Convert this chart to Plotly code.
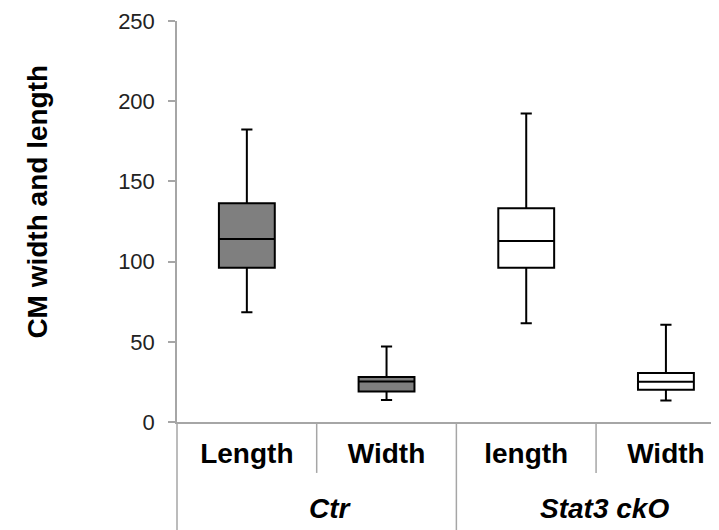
import plotly.graph_objects as go

# ---- data ----
groups = ["Ctr", "Ctr", "Stat3 ckO", "Stat3 ckO"]
categories = ["Length", "Width", "length", "Width"]
lower_whisker = [68.5, 13.7, 61.6, 13.4]
q1_values = [96.2, 19.0, 96.2, 20.1]
median_values = [114.1, 25.3, 112.9, 25.1]
q3_values = [136.3, 28.0, 133.2, 30.5]
upper_whisker = [182.4, 47.1, 192.3, 60.6]
fill_colors = ["#7f7f7f", "#7f7f7f", "#ffffff", "#ffffff"]
group_names = ["Ctr", "Stat3 ckO"]
group_label_pos = [0.60, 2.56]
y_ticks = [0, 50, 100, 150, 200, 250]

FONT = "Liberation Sans, Arial, sans-serif"
AXIS_GRAY = "#a6a6a6"

positions = list(range(len(categories)))

fig = go.Figure()
for i, pos in enumerate(positions):
    fig.add_trace(go.Box(
        x=[pos],
        q1=[q1_values[i]], median=[median_values[i]], q3=[q3_values[i]],
        lowerfence=[lower_whisker[i]], upperfence=[upper_whisker[i]],
        fillcolor=fill_colors[i],
        line=dict(color="#000000", width=2),
        width=0.4, whiskerwidth=0.2,
        boxpoints=False, showlegend=False, hoverinfo="skip",
    ))

shapes = []
# left axis extension down through label rows
shapes.append(dict(type="line", xref="x domain", yref="paper", x0=0, x1=0,
                   y0=0, y1=-0.3, line=dict(color=AXIS_GRAY, width=1.5)))
for k in range(1, len(categories)):
    boundary = k - 0.5
    is_group_edge = groups[k] != groups[k - 1]
    shapes.append(dict(type="line", xref="x", yref="paper", x0=boundary, x1=boundary,
                       y0=0, y1=(-0.3 if is_group_edge else -0.127),
                       line=dict(color=AXIS_GRAY, width=1.5)))

annotations = []
for name, gx in zip(group_names, group_label_pos):
    annotations.append(dict(
        x=gx, xref="x", y=-0.215, yref="paper", yanchor="middle", xanchor="center",
        text="<b><i>%s</i></b>" % name, showarrow=False,
        font=dict(family=FONT, size=28, color="#000000")))
annotations.append(dict(
    x=-0.258, xref="paper", y=0.55, yref="paper", xanchor="center", yanchor="middle",
    text="<b>CM width and length</b>", textangle=-90, showarrow=False,
    font=dict(family=FONT, size=28, color="#000000")))

# the page body adds an 8px offset, so the figure is 8px smaller on each side
fig.update_layout(
    width=711, height=522,
    margin=dict(l=169, r=0, t=13, b=108, autoexpand=False),
    paper_bgcolor="white", plot_bgcolor="white",
    boxmode="overlay",
    shapes=shapes, annotations=annotations,
    xaxis=dict(
        range=[-0.5, 3.38], tickvals=positions, ticktext=categories,
        tickfont=dict(family=FONT, size=28, color="#000000", weight="bold"),
        showline=True, linecolor=AXIS_GRAY, linewidth=1.5,
        showgrid=False, zeroline=False, ticks="", ticklabelstandoff=6,
    ),
    yaxis=dict(
        range=[0, 250], tickvals=y_ticks,
        tickfont=dict(family=FONT, size=22, color="#222222"),
        showline=True, linecolor=AXIS_GRAY, linewidth=1.5,
        ticks="outside", ticklen=7, tickcolor=AXIS_GRAY, tickwidth=1.5,
        showgrid=False, zeroline=False, ticklabelstandoff=9,
    ),
)

fig.write_html("out.html")
